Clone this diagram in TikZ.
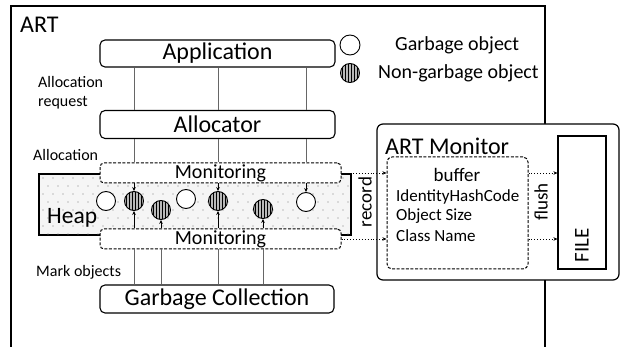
\documentclass[tikz,border=0pt]{standalone}
\usepackage{fontspec}
\setmainfont{Carlito}
\usetikzlibrary{arrows.meta,patterns}

\begin{document}
\begin{tikzpicture}
[x=1pt, y=-1pt,
layerbox/.style={rectangle, rounded corners=5pt, draw=black, line width=1.1pt, fill=white, inner sep=0pt, font=\fontsize{24}{26}\selectfont},
monbox/.style={rectangle, rounded corners=4pt, draw=black, dash pattern=on 3pt off 1.6pt, line width=1pt, fill=white, minimum width=241pt, minimum height=20pt, inner sep=0pt, font=\fontsize{20}{22}\selectfont},
heapbox/.style={rectangle, draw=black, line width=1.1pt, fill=gray!8, minimum width=312pt, minimum height=61pt, inner sep=0pt},
garbage/.style={circle, draw=black, line width=0.9pt, fill=white, minimum size=19pt, inner sep=0pt},
live/.style={circle, draw=black, line width=0.9pt, fill=gray!55, minimum size=19pt, inner sep=0pt, postaction={pattern=vertical lines}},
smalltext/.style={font=\fontsize{16}{19}\selectfont, inner sep=0pt},
midtext/.style={font=\fontsize{19}{21}\selectfont, inner sep=0pt},
connect/.style={draw=gray!80!black, line width=0.7pt},
arrow/.style={-{Stealth[length=4pt,width=3.5pt]}, line width=0.6pt},
record/.style={-{Stealth[length=4pt,width=3.5pt]}, dotted, line width=0.9pt}]
\useasboundingbox (0,0) rectangle (621,347);
\draw[line width=1.3pt] (11,347) -- (11,6) -- (545,6) -- (545,347);
\node[anchor=west, inner sep=0pt, font=\fontsize{24}{26}\selectfont] (art) at (20,25) {ART};
\node[layerbox, minimum width=235pt, minimum height=27pt] (app) at (217.5,53.5) {Application};
\node[layerbox, minimum width=235pt, minimum height=28pt] (alloc) at (217.5,124.5) {Allocator};
\node[layerbox, minimum width=234pt, minimum height=28pt] (gc) at (217,299) {Garbage Collection};
\node[smalltext, anchor=west, align=left] (req) at (38,93) {Allocation\\request};
\node[smalltext, anchor=west] (allocl) at (33,155) {Allocation};
\node[smalltext, anchor=west] (mark) at (36,272) {Mark objects};
\node[heapbox] (heap) at (195,204.5) {};
\begin{scope}
\clip (heap.south west) rectangle (heap.north east);
\foreach \r in {0,...,7}
  \foreach \c in {0,...,31}
    \fill[gray] ({43+\c*10+mod(\r,2)*5},{178+\r*8}) circle (0.7);
\end{scope}
\node[anchor=west, inner sep=0pt, font=\fontsize{23.5}{26}\selectfont] (heapl) at (47,218) {Heap};
\node[monbox] (montop) at (220.5,173) {Monitoring};
\node[monbox] (monbot) at (220.5,239) {Monitoring};
\node[garbage] (o1) at (106,201) {};
\node[live] (o2) at (134,201) {};
\node[live] (o3) at (161,210) {};
\node[garbage] (o4) at (186,199) {};
\node[live] (o5) at (218,201) {};
\node[live] (o6) at (263,209) {};
\node[garbage] (o7) at (306,202) {};
\foreach \o in {o2,o5,o7} {
  \draw[connect] (app.south -| \o) -- (alloc.north -| \o);
  \draw[connect] (alloc.south -| \o) -- (montop.north -| \o);
  \draw[arrow] (montop.south -| \o) -- (\o.north);
}
\foreach \o in {o2,o3,o5,o6} {
  \draw[connect] (gc.north -| \o) -- (monbot.south -| \o);
  \draw[arrow] (monbot.north -| \o) -- (\o.south);
}
\node[garbage, minimum size=20pt] (leggarbage) at (350,45) {};
\node[live, minimum width=17pt, minimum height=19pt] (leglive) at (350,73) {};
\node[anchor=west, inner sep=0pt, font=\fontsize{20}{22}\selectfont] (legg) at (395,45) {Garbage object};
\node[anchor=west, inner sep=0pt, font=\fontsize{20}{22}\selectfont] (legl) at (378,73) {Non-garbage object};
\node[rectangle, rounded corners=6pt, draw=black, line width=1.2pt, fill=white, minimum width=242pt, minimum height=156pt] (monitor) at (498,202) {};
\node[anchor=west, inner sep=0pt, font=\fontsize{24}{26}\selectfont] (monl) at (385,146) {ART Monitor};
\node[rectangle, rounded corners=5pt, draw=black, dash pattern=on 3pt off 1.6pt, line width=1pt, minimum width=141pt, minimum height=112pt] (buffer) at (457.5,213) {};
\node[midtext] (bufl) at (457,175) {buffer};
\node[anchor=west, inner sep=0pt, font=\fontsize{17}{19}\selectfont] (hash) at (396,197) {IdentityHashCode};
\node[anchor=west, inner sep=0pt, font=\fontsize{17}{19}\selectfont] (size) at (396,216) {Object Size};
\node[anchor=west, inner sep=0pt, font=\fontsize{17}{19}\selectfont] (cname) at (396,236) {Class Name};
\node[rectangle, draw=black, line width=1.1pt, minimum width=48pt, minimum height=133pt] (file) at (582,202.5) {};
\node[rotate=90, inner sep=0pt, font=\fontsize{21}{23}\selectfont] (filel) at (582,245) {FILE};
\node[midtext, rotate=90] (recl) at (365,202) {record};
\node[midtext, rotate=90] (flushl) at (541,202) {flush};
\draw[record] (montop.east) -- (montop.east -| buffer.west);
\draw[record] (monbot.east) -- (monbot.east -| buffer.west);
\draw[record] (buffer.east |- montop.east) -- (file.west |- montop.east);
\draw[record] (buffer.east |- monbot.east) -- (file.west |- monbot.east);
\end{tikzpicture}
\end{document}
